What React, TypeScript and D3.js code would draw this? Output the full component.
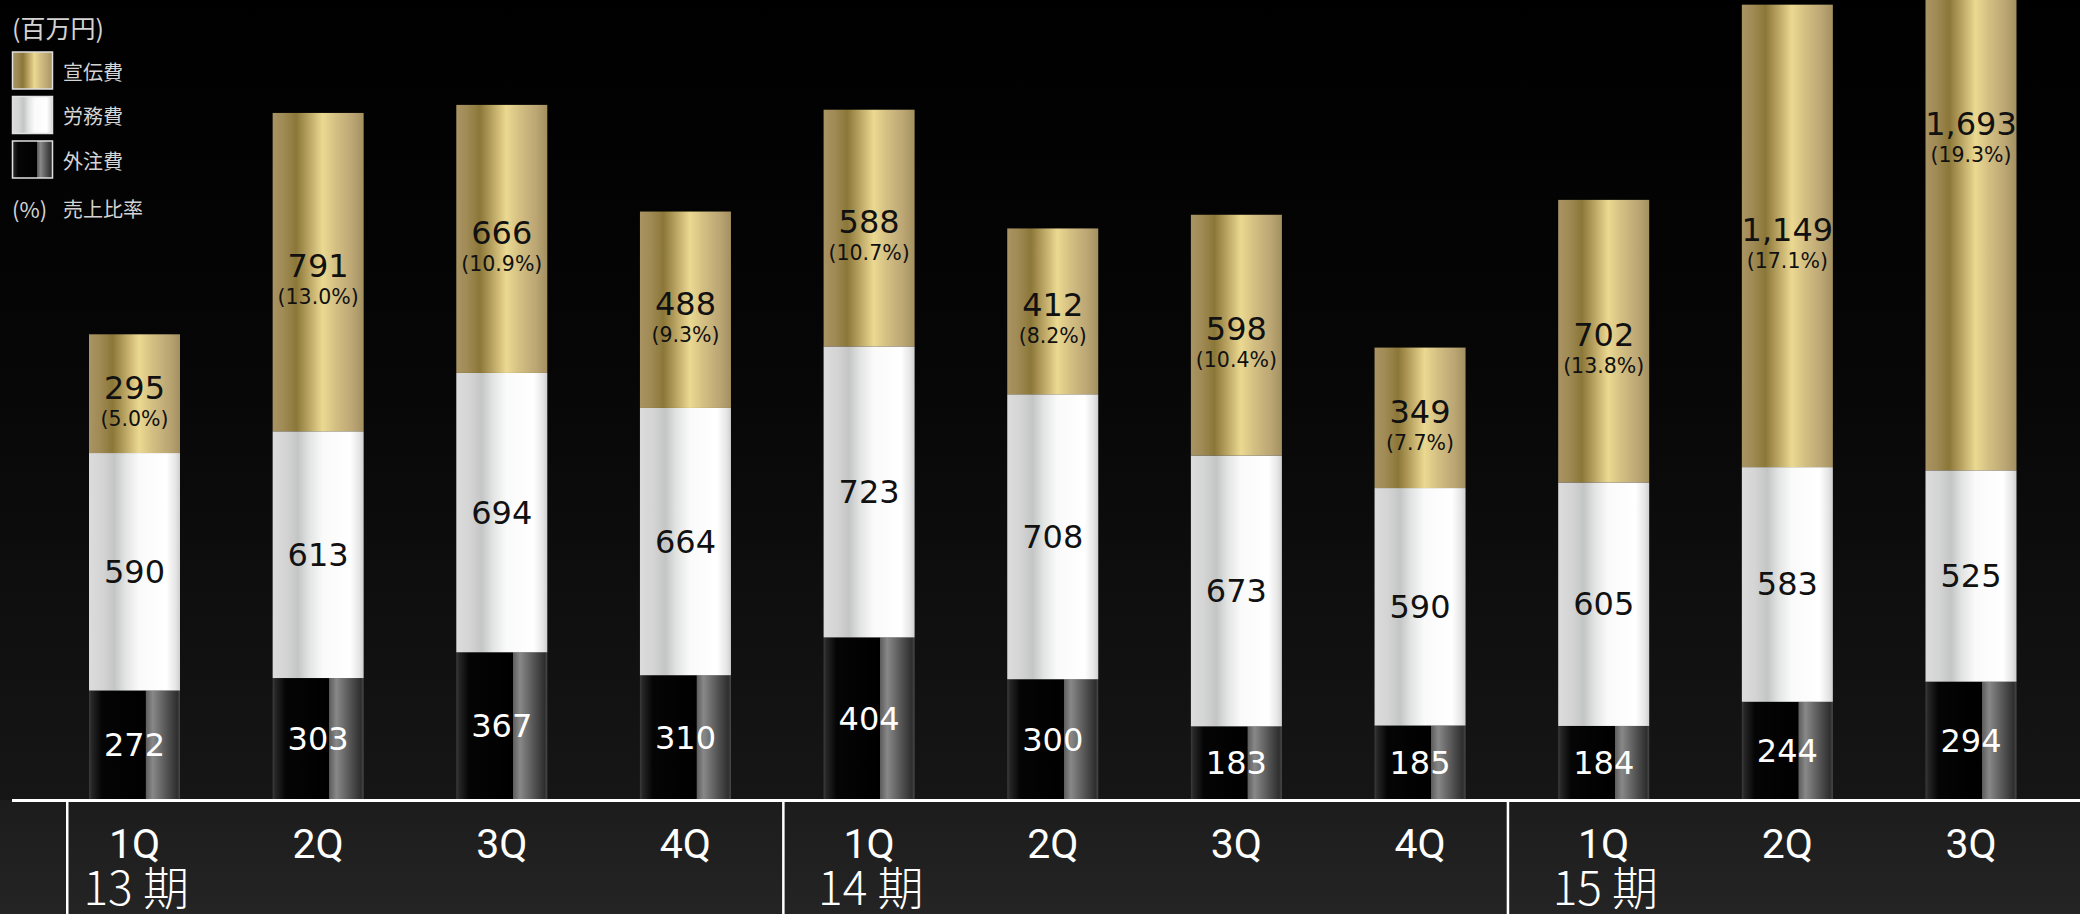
import React, { useEffect } from "react";
import * as d3 from "d3";

const quarters = ["1Q", "2Q", "3Q", "4Q", "1Q", "2Q", "3Q", "4Q", "1Q", "2Q", "3Q"];
const periods = ["13 期", "14 期", "15 期"];
const periodStartIndex = [0, 4, 8];
const outsourcing = [272, 303, 367, 310, 404, 300, 183, 185, 184, 244, 294];
const labor = [590, 613, 694, 664, 723, 708, 673, 590, 605, 583, 525];
const advertising = [295, 791, 666, 488, 588, 412, 598, 349, 702, 1149, 1693];
const adRatio = ["(5.0%)", "(13.0%)", "(10.9%)", "(9.3%)", "(10.7%)", "(8.2%)", "(10.4%)", "(7.7%)", "(13.8%)", "(17.1%)", "(19.3%)"];
const legendLabels = ["宣伝費", "労務費", "外注費"];

const W = 2080;
const H = 914;
const BASE = 800;
const BAR_W = 91;
const SEP_OFFSET = [67.5, 86, 96];

export default function App() {
  useEffect(() => {
    document.body.style.margin = "0";
    document.body.style.background = "#000";
  }, []);

  const keys = quarters.map((_, i) => String(i));
  const x = d3.scalePoint<string>().domain(keys).range([134.5, 1971]);
  const y = d3.scaleLinear().domain([0, 2000]).range([BASE, -5]);

  const stack = keys.map((k, i) => {
    const b1 = outsourcing[i];
    const w1 = b1 + labor[i];
    const g1 = w1 + advertising[i];
    return { k, i, segs: [
      { key: "black", y0: 0, y1: b1, v: outsourcing[i] },
      { key: "white", y0: b1, y1: w1, v: labor[i] },
      { key: "gold", y0: w1, y1: g1, v: advertising[i] },
    ] };
  });

  const fmt = d3.format(",");
  const numFont = "'DejaVu Sans', sans-serif";
  const jpFont = "'Noto Sans CJK JP', sans-serif";

  return (
    <svg width={W} height={H} style={{ display: "block" }}>
      <defs>
        <linearGradient id="bg" x1="0" y1="0" x2="0" y2="1">
          <stop offset="0" stopColor="#000" />
          <stop offset="0.45" stopColor="#060606" />
          <stop offset="1" stopColor="#161616" />
        </linearGradient>
        <linearGradient id="bgBottom" x1="0" y1="0" x2="0" y2="1">
          <stop offset="0" stopColor="#1c1c1c" />
          <stop offset="1" stopColor="#242424" />
        </linearGradient>
        <linearGradient id="gold" x1="0" y1="0" x2="1" y2="0">
          <stop offset="0" stopColor="#a99463" />
          <stop offset="0.12" stopColor="#a08a55" />
          <stop offset="0.26" stopColor="#8b7738" />
          <stop offset="0.4" stopColor="#bba564" />
          <stop offset="0.55" stopColor="#ebd991" />
          <stop offset="0.7" stopColor="#d3be82" />
          <stop offset="0.87" stopColor="#bca775" />
          <stop offset="1" stopColor="#a48f5f" />
        </linearGradient>
        <linearGradient id="white" x1="0" y1="0" x2="1" y2="0">
          <stop offset="0" stopColor="#dcdcdc" />
          <stop offset="0.15" stopColor="#d4d4d4" />
          <stop offset="0.28" stopColor="#c4c5c5" />
          <stop offset="0.4" stopColor="#e2e3e3" />
          <stop offset="0.55" stopColor="#fafafa" />
          <stop offset="0.85" stopColor="#ffffff" />
          <stop offset="0.95" stopColor="#e6e6e6" />
          <stop offset="1" stopColor="#cfcfcf" />
        </linearGradient>
        <linearGradient id="black" x1="0" y1="0" x2="1" y2="0">
          <stop offset="0" stopColor="#3c3c3c" />
          <stop offset="0.03" stopColor="#262626" />
          <stop offset="0.14" stopColor="#050505" />
          <stop offset="0.62" stopColor="#000" />
          <stop offset="0.625" stopColor="#5e5e5e" />
          <stop offset="0.7" stopColor="#888" />
          <stop offset="0.85" stopColor="#555" />
          <stop offset="0.97" stopColor="#2e2e2e" />
          <stop offset="1" stopColor="#4a4a4a" />
        </linearGradient>
      </defs>

      <rect x={0} y={0} width={W} height={BASE} fill="url(#bg)" />
      <rect x={0} y={BASE} width={W} height={H - BASE} fill="url(#bgBottom)" />

      {stack.map((s) => {
        const cx = x(s.k)!;
        return (
          <g key={s.k}>
            {s.segs.map((sg) => {
              const top = y(sg.y1);
              const bot = y(sg.y0);
              return (
                <rect key={sg.key} x={cx - BAR_W / 2} y={top} width={BAR_W} height={bot - top}
                  fill={`url(#${sg.key})`} />
              );
            })}
          </g>
        );
      })}

      {stack.map((s) => {
        const cx = x(s.k)!;
        return (
          <g key={"l" + s.k}>
            {s.segs.map((sg) => {
              const mid = (y(sg.y1) + y(sg.y0)) / 2;
              if (sg.key === "gold") {
                return (
                  <g key={sg.key}>
                    <text x={cx} y={mid - 6} textAnchor="middle" dominantBaseline="central"
                      fontFamily={numFont} fontSize={32} fill="#111">{fmt(sg.v)}</text>
                    <text x={cx} y={mid + 25} textAnchor="middle" dominantBaseline="central"
                      fontFamily={numFont} fontSize={20.5} fill="#111">{adRatio[s.i]}</text>
                  </g>
                );
              }
              return (
                <text key={sg.key} x={cx} y={mid} textAnchor="middle" dominantBaseline="central"
                  fontFamily={numFont} fontSize={32} fill={sg.key === "black" ? "#fff" : "#111"}>
                  {fmt(sg.v)}
                </text>
              );
            })}
          </g>
        );
      })}

      <rect x={12} y={BASE - 1} width={W - 12} height={3} fill="#fff" />
      {periodStartIndex.map((pi, j) => (
        <rect key={"sep" + j} x={x(String(pi))! - SEP_OFFSET[j] - 1} y={BASE + 2} width={2.5} height={H - BASE} fill="#fff" />
      ))}
      {quarters.map((q, i) => (
        <text key={"q" + i} x={x(String(i))!} y={858} textAnchor="middle"
          fontFamily="Roboto, sans-serif" fontSize={41} fill="#fff">{q}</text>
      ))}
      {periods.map((p, j) => (
        <text key={"p" + j} x={x(String(periodStartIndex[j]))! - 51} y={905}
          fontFamily={jpFont} fontWeight={300} fontSize={46} fill="#fff">{p}</text>
      ))}

      <text x={12} y={27} dominantBaseline="central" fontFamily={jpFont} fontSize={25} fill="#d4d4d4">(百万円)</text>
      {legendLabels.map((l, i) => {
        const id = ["gold", "white", "black"][i];
        const top = 52 + i * 44.5;
        return (
          <g key={"lg" + i}>
            <rect x={12.5} y={top} width={40} height={37} fill={`url(#${id})`} stroke="#e0e0e0" strokeWidth={1.5} />
            <text x={63} y={top + 19} dominantBaseline="central" fontFamily={jpFont} fontSize={20} fill="#d4d4d4">{l}</text>
          </g>
        );
      })}
      <text x={12} y={208} dominantBaseline="central" fontFamily={jpFont} fontSize={22} fill="#d4d4d4">(%)</text>
      <text x={63} y={208} dominantBaseline="central" fontFamily={jpFont} fontSize={20} fill="#d4d4d4">売上比率</text>
    </svg>
  );
}
